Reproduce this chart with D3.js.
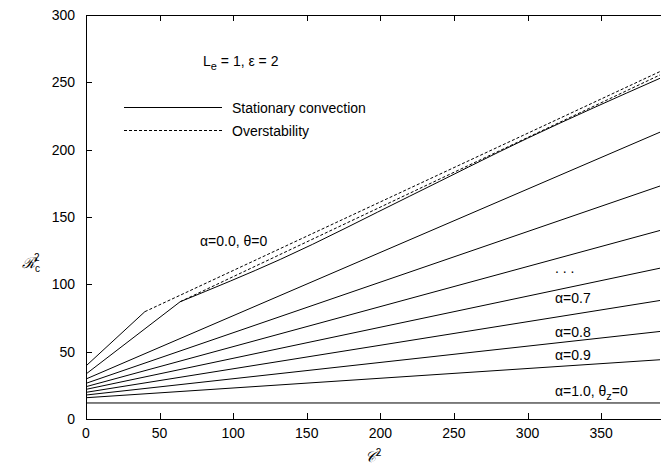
<!DOCTYPE html>
<html>
<head>
<meta charset="utf-8">
<script src="https://cdn.jsdelivr.net/npm/d3@7"></script>
<style>
  body { margin: 0; background: #fff; }
  text { font-family: "Liberation Sans", Arial, sans-serif; font-size: 14px; fill: #000; }
</style>
</head>
<body>
<svg id="chart" width="661" height="468"></svg>
<script>
const xTicks = [0, 50, 100, 150, 200, 250, 300, 350];
const yTicks = [0, 50, 100, 150, 200, 250, 300];

// stationary convection lines: value at C^2 = 0 and at C^2 = 390
const statStart = [29.7, 26.5, 24, 22, 19.8, 17.8, 15.8, 11.9];
const statEnd = [213, 173, 140, 112, 88, 65, 44, 11.9];

// alpha = 0 curves: solid part up to the kink, then stationary + overstability
const kinkA = [[0, 39.4], [40, 79.7]];
const kinkB = [[0, 33.4], [64, 87.1]];
const statZero = [[64, 87.1], [132, 118.5], [220, 165.5], [300, 208.5], [390, 253]];
const overA = [[40, 79.7], [390, 258]];
const overB = [[64, 87.1], [390, 255.5]];

const svg = d3.select('#chart');
const margin = { left: 86, right: 1, top: 15, bottom: 49 };
const width = 661, height = 468;

const x = d3.scaleLinear().domain([0, 390]).range([margin.left, width - margin.right]);
const y = d3.scaleLinear().domain([0, 300]).range([height - margin.bottom, margin.top]);

const line = d3.line().x(d => x(d[0])).y(d => y(d[1]));
const smooth = d3.line().x(d => x(d[0])).y(d => y(d[1])).curve(d3.curveMonotoneX);

// frame (left, bottom, top)
const frame = svg.append('g').attr('stroke', '#000').attr('fill', 'none').attr('stroke-width', 1);
frame.append('path').attr('d', `M${width},${y(300) + 0.5}H${x(0) + 0.5}V${y(0) + 0.5}H${width}`);

// ticks
const tickLen = 6;
xTicks.forEach(t => {
  const px = Math.round(x(t)) + 0.5;
  frame.append('line').attr('x1', px).attr('x2', px).attr('y1', y(0)).attr('y2', y(0) - tickLen);
  frame.append('line').attr('x1', px).attr('x2', px).attr('y1', y(300)).attr('y2', y(300) + tickLen);
  svg.append('text').attr('x', x(t)).attr('y', y(0) + 19).attr('text-anchor', 'middle').text(t);
});
yTicks.forEach(t => {
  const py = Math.round(y(t)) + 0.5;
  frame.append('line').attr('x1', x(0)).attr('x2', x(0) + tickLen).attr('y1', py).attr('y2', py);
  svg.append('text').attr('x', x(0) - 11).attr('y', y(t) + 5).attr('text-anchor', 'end').text(t);
});

const plot = svg.append('g').attr('fill', 'none').attr('stroke', '#000').attr('stroke-width', 1);

statStart.forEach((s, i) => {
  plot.append('path').attr('d', line([[0, s], [390, statEnd[i]]]));
});
plot.append('path').attr('d', line(kinkA));
plot.append('path').attr('d', line(kinkB));
plot.append('path').attr('d', smooth(statZero));
[overA, overB].forEach(d => {
  plot.append('path').attr('d', line(d)).attr('stroke-dasharray', '3,2');
});

// legend
plot.append('line').attr('x1', 124).attr('x2', 222).attr('y1', 107.5).attr('y2', 107.5);
plot.append('line').attr('x1', 124).attr('x2', 222).attr('y1', 130.5).attr('y2', 130.5).attr('stroke-dasharray', '3,2');
svg.append('text').attr('x', 232).attr('y', 113).text('Stationary convection');
svg.append('text').attr('x', 232).attr('y', 136).text('Overstability');

// annotations
const t1 = svg.append('text').attr('x', 203).attr('y', 66);
t1.append('tspan').text('L');
t1.append('tspan').attr('dy', 4).attr('font-size', 11).text('e');
t1.append('tspan').attr('dy', -4).text(' = 1, ε = 2');

svg.append('text').attr('x', 200).attr('y', 246).text('α=0.0, θ=0');
svg.append('text').attr('x', 555).attr('y', 273).text('. . .');
svg.append('text').attr('x', 555).attr('y', 303).text('α=0.7');
svg.append('text').attr('x', 555).attr('y', 337).text('α=0.8');
svg.append('text').attr('x', 555).attr('y', 360).text('α=0.9');
const t2 = svg.append('text').attr('x', 555).attr('y', 396);
t2.append('tspan').text('α=1.0, θ');
t2.append('tspan').attr('dy', 4).attr('font-size', 11).text('z');
t2.append('tspan').attr('dy', -4).text('=0');

// axis titles
const xt = svg.append('text').attr('x', 373).attr('y', 462).attr('text-anchor', 'middle').attr('font-style', 'italic');
xt.append('tspan').attr('font-family', 'DejaVu Serif').attr('font-size', 15).text('𝒞');
xt.append('tspan').attr('dy', -6).attr('font-size', 10).attr('font-style', 'normal').text('2');

const yt = svg.append('text').attr('x', 22).attr('y', 268).attr('font-style', 'italic');
yt.append('tspan').attr('font-family', 'DejaVu Serif').attr('font-size', 15).text('ℛ');
yt.append('tspan').attr('dy', 4).attr('font-size', 10).attr('font-style', 'normal').text('c');
yt.append('tspan').attr('dx', -6).attr('dy', -11).attr('font-size', 10).attr('font-style', 'normal').text('2');
</script>
</body>
</html>
